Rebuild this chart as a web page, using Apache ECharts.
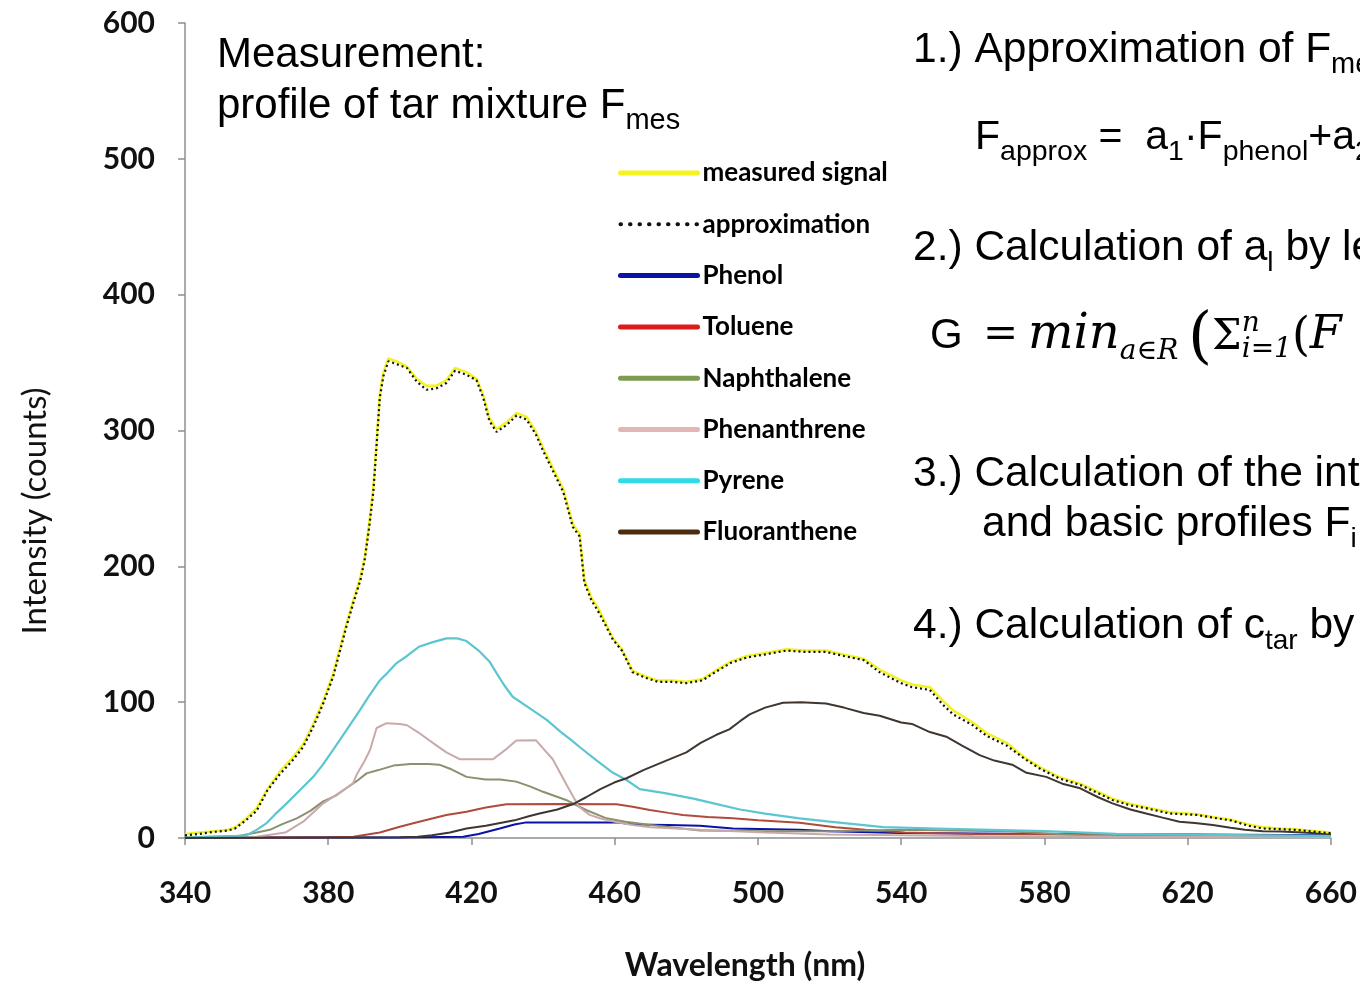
<!DOCTYPE html>
<html>
<head>
<meta charset="utf-8">
<title>Tar mixture profile</title>
<script src="https://cdn.jsdelivr.net/npm/echarts@6/dist/echarts.min.js"></script>
<style>
  html, body { margin: 0; padding: 0; background: #fff; }
  #chart { width: 1360px; height: 984px; }
</style>
</head>
<body>
<div id="chart"></div>
<script>
// wavelength (nm) / intensity (counts) pairs
var approxNm = [340, 344, 348, 352, 354, 357, 360, 363, 366.5, 370, 373, 376, 378.6, 381.4, 383.3, 385, 387, 389, 390.2, 391.5, 392.6, 393.5, 394.4, 395.4, 396.8, 399, 402, 404.7, 407.4, 410.2, 413, 415.4, 418.6, 421.4, 423.3, 425, 427, 429.8, 432.6, 435.4, 438, 440, 442.8, 445.6, 448.3, 450.2, 451.5, 453.5, 455.8, 459.5, 462, 465, 468.6, 472, 476, 480, 484.5, 488, 492.5, 497, 501.7, 508, 513, 519, 524, 529.5, 534, 540, 543, 548, 551.7, 554.5, 560, 564, 569.5, 574.6, 578.8, 584, 590, 595, 599, 604, 608.6, 615, 622.5, 627, 632, 637, 641, 646, 650, 656, 660];
var approxVal = [2, 3, 4.5, 5.5, 7, 13, 20, 35, 47, 57, 67, 83, 99, 119, 138, 155, 173, 190, 205, 230, 255, 289, 324, 340, 351, 349, 346, 336, 330, 331, 335, 344, 341, 337, 324, 307, 299, 304, 311, 308, 297, 285, 270, 255, 229, 222, 188, 175, 165, 146, 138, 122, 118, 115, 115, 114, 116, 122, 129, 133, 135, 138, 137, 137, 134, 131, 122, 114, 111, 109, 98, 91, 83, 75, 68, 58, 51, 44, 39, 33, 28, 24, 21.8, 18, 17, 15, 13, 9, 7, 6.5, 6, 4.5, 3.5];

var measNm = [340, 344, 348, 352, 354, 357, 360, 363, 366.5, 370, 373, 376, 378.6, 381.4, 383.3, 385, 387, 389, 390.2, 391.5, 392.6, 393.5, 394.4, 395.4, 396.8, 399, 402, 404.7, 407.4, 410.2, 413, 415.4, 418.6, 421.4, 423.3, 425, 427, 429.8, 432.6, 435.4, 438, 440, 442.8, 445.6, 448.3, 450.2, 451.5, 453.5, 455.8, 459.5, 462, 465, 468.6, 472, 476, 480, 484.5, 488, 492.5, 497, 501.7, 508, 513, 519, 524, 529.5, 534, 540, 543, 548, 551.7, 554.5, 560, 564, 569.5, 574.6, 578.8, 584, 590, 595, 599, 604, 608.6, 615, 622.5, 627, 632, 637, 641, 646, 650, 656, 660];
var measVal = [3, 4, 5, 6, 8, 14, 22, 36, 49, 59, 69, 85, 101, 121, 140, 157, 175, 192, 207, 233, 258, 292, 327, 343, 353, 351, 347, 338, 333, 333, 337, 346, 343, 338, 326, 309, 301, 306, 313, 310, 299, 287, 272, 257, 231, 224, 190, 177, 167, 147, 139, 123, 119, 116, 116, 115, 117, 123, 130, 134, 136, 139, 138, 138, 135, 132, 124, 116, 113, 111, 101, 94, 85, 77, 70, 59, 52, 45, 40, 34, 29, 25, 22.5, 19, 17.5, 15.5, 13.5, 10, 8, 7, 6.5, 5, 4];

var phenolNm = [340, 400, 417.7, 422, 427.9, 432, 435.3, 460.5, 465.2, 475, 483.8, 493, 511.6, 520, 540, 580, 620, 660];
var phenolVal = [0.3, 0.3, 1, 3, 7, 10, 11.5, 11.5, 10, 9.5, 9, 7, 6, 5, 3.7, 3, 2.5, 2];

var tolueneNm = [340, 380, 387, 394.4, 400, 404, 409.3, 413, 418.6, 424, 429.8, 445, 460.5, 465, 469.8, 475, 479, 486, 493, 500, 511.6, 521.6, 530, 541, 560, 600, 640, 660];
var tolueneVal = [0, 0.5, 1, 4, 8.3, 11, 14.5, 17, 19.4, 22.5, 24.8, 25, 24.8, 23, 20.6, 18.5, 17, 15.5, 14.5, 13, 11.3, 8, 6, 4, 3, 2.5, 2, 1];

var naphNm = [340, 355, 360, 363.7, 367, 371.2, 375, 378.6, 382, 385, 388, 390.7, 394, 398.2, 403, 408, 411, 414, 418.6, 424, 428, 432.5, 436.3, 440, 446.4, 452, 457.7, 463, 470, 483.8, 502, 520, 540, 570, 590, 620, 660];
var naphVal = [0.5, 1.5, 4, 6, 10, 14.5, 20, 27, 31, 36.6, 42, 47.6, 50, 53.3, 54.5, 54.5, 54, 51, 45, 43, 43, 41.5, 38, 34, 28, 20.6, 14.5, 12, 9.6, 5.5, 5, 5, 6, 5, 2, 1.5, 1];

var phenanNm = [340, 360, 368, 373, 378.6, 383, 386.9, 388, 390, 391.7, 393.5, 396.3, 400, 402, 405, 409.2, 413, 416.7, 426, 430, 432.5, 438, 440, 442.7, 446.4, 450, 453, 455.8, 460, 465, 470, 483.8, 502, 520, 540, 560, 600, 660];
var phenanVal = [0.5, 1, 4, 12, 25.5, 33, 40, 47, 56, 65, 81, 84.5, 84, 83, 78, 70, 63, 58, 58, 66, 71.7, 72, 66, 58, 40, 23, 17, 14.5, 12, 9.6, 8, 6, 4, 2.5, 2, 1.5, 1, 0.5];

var pyreneNm = [340, 352, 357.2, 360, 362.8, 365, 368.4, 372, 375.8, 378.5, 381.4, 385.1, 388.8, 391.5, 394.4, 396.7, 399, 402, 405.5, 409, 413, 416, 418.6, 422, 425, 427.1, 429, 431.5, 436, 441, 445, 448.4, 450.2, 455, 459.5, 463.3, 467, 474, 482, 490, 495, 502, 511.6, 520, 535, 550, 565, 580, 600, 620, 640, 660];
var pyreneVal = [0.5, 1, 2, 6, 11, 17, 25.5, 35, 45, 54, 65, 79.5, 94, 105, 116, 122, 128.6, 134, 141, 144, 147, 147, 145, 138, 130, 121, 113, 104, 96, 87, 78, 71, 67, 57, 48, 42.7, 36, 33, 29, 24, 21, 18, 14.5, 12, 8, 7, 6, 5, 3, 2.5, 2, 1.5];

var fluorNm = [340, 400, 405, 409, 414, 418.6, 424, 428, 432, 436, 439, 444, 448.4, 452, 456, 460, 463.3, 468, 474.4, 480, 484, 488.4, 492, 495, 497.7, 502, 507, 512, 519, 524, 529.5, 534, 540, 543, 548, 552.6, 557, 561.9, 566, 571, 575, 580.5, 585, 590, 595, 599, 604, 608.4, 613, 617.7, 622, 627, 632, 636, 641, 646, 652, 660];
var fluorVal = [0, 0.5, 1, 2, 4, 7, 9, 11, 13, 16, 18, 21, 25, 30, 36, 41, 44, 50, 57, 63, 70, 76, 80, 86, 91, 96, 99.6, 100, 99, 96, 92, 90, 85, 84, 78, 74.6, 68, 61, 57, 54, 48, 45, 40, 36.6, 30, 25.5, 21, 18, 15, 12, 11, 9.6, 7.5, 6, 5, 4.7, 4, 3];

var xTicks = [340, 660, 40];
var yTicks = [0, 600, 100];

function pairs(nm, val) {
  return nm.map(function (x, i) { return [x, val[i]]; });
}

function line(name, nm, val, color, width, extra) {
  var s = {
    name: name,
    type: 'line',
    data: pairs(nm, val),
    symbol: 'none',
    silent: true,
    lineStyle: { color: color, width: width },
    itemStyle: { color: color }
  };
  for (var k in extra) s[k] = extra[k];
  return s;
}

// lay out a run of text pieces left to right (for sub/superscripts)
var measure = document.createElement('canvas').getContext('2d');
var SANS = '"Liberation Sans", Arial, sans-serif';
var MATH = '"DejaVu Serif", serif';
function run(x, y, parts) {
  var out = [];
  var cx = x;
  parts.forEach(function (p) {
    var size = p.s || 42.5;
    var font = (p.it ? 'italic ' : '') + size + 'px ' + (p.f || SANS);
    if (p.x !== undefined) cx = p.x;
    measure.font = font;
    var w = measure.measureText(p.t).width;
    out.push({
      type: 'text', x: cx, y: y + (p.dy || 0), silent: true,
      style: { text: p.t, font: font, fill: '#000', align: 'left', verticalAlign: 'middle' }
    });
    if (!p.stay) cx += w;
  });
  return out;
}

var notes = [].concat(
  run(217, 55, [{ t: 'Measurement:', s: 42 }]),
  run(217, 106, [{ t: 'profile of tar mixture F', s: 42 }, { t: 'mes', s: 29, dy: 15 }]),
  run(913, 50, [{ t: '1.) Approximation of F' }, { t: 'mes', s: 29, dy: 15 }]),
  run(975, 138, [{ t: 'F', s: 41 }, { t: 'approx', s: 28.5, dy: 14 }, { t: ' =  a', s: 41 }, { t: '1', s: 28.5, dy: 14 },
    { t: '\u00b7F', s: 41 }, { t: 'phenol', s: 28.5, dy: 14 }, { t: '+a', s: 41 }, { t: '2', s: 28.5, dy: 14 }]),
  run(913, 248, [{ t: '2.) Calculation of a' }, { t: 'l', s: 28, dy: 15 }, { t: ' by least squares' }]),
  run(930, 336, [{ t: 'G', s: 42 }, { t: '=', s: 42, f: MATH, x: 983 }, { t: 'min', s: 48, it: 1, f: MATH, x: 1028 },
    { t: 'a\u2208R', s: 28, it: 1, f: MATH, dy: 16 }, { t: '(', s: 62, f: MATH, x: 1188, dy: 4 },
    { t: '\u03a3', s: 42, f: MATH, x: 1212, dy: 2 }, { t: 'n', s: 28, it: 1, f: MATH, dy: -12, stay: 1 },
    { t: 'i=1', s: 28, it: 1, f: MATH, dy: 14 }, { t: '(', s: 46, f: MATH, dy: 2 }, { t: 'F', s: 46, it: 1, f: MATH }]),
  run(913, 474, [{ t: '3.) Calculation of the intensities' }]),
  run(982, 524, [{ t: 'and basic profiles F' }, { t: 'i', s: 28, dy: 15 }]),
  run(913, 626, [{ t: '4.) Calculation of c' }, { t: 'tar', s: 28, dy: 15 }, { t: ' by' }])
);

notes.push({
  type: 'text', x: 35, y: 511, rotation: Math.PI / 2, silent: true,
  style: { text: 'Intensity (counts)', font: '33px Lato, sans-serif', fill: '#111', align: 'center', verticalAlign: 'middle' }
});
notes.push({
  type: 'text', x: 745, y: 966, silent: true,
  style: { text: 'Wavelength (nm)', font: 'bold 32px Lato, sans-serif', fill: '#111', align: 'center', verticalAlign: 'middle' }
});

var axisGray = '#8f8f8f';
var tickFont = { fontFamily: 'Lato', fontWeight: 'bold', fontSize: 30, color: '#111' };

function key(name, color, extra) {
  var ls = { color: color, width: 5, cap: 'round' };
  for (var k in extra) ls[k] = extra[k];
  return { name: name, lineStyle: ls };
}

var chart = echarts.init(document.getElementById('chart'), null, { renderer: 'canvas' });
chart.setOption({
  animation: false,
  backgroundColor: '#fff',
  grid: { left: 185, right: 29, top: 23, bottom: 146 },
  xAxis: {
    type: 'value',
    min: xTicks[0], max: xTicks[1], interval: xTicks[2],
    axisLine: { lineStyle: { color: axisGray, width: 1.5 } },
    axisTick: { length: 7, lineStyle: { color: axisGray, width: 1.5 } },
    splitLine: { show: false },
    axisLabel: Object.assign({ margin: 40 }, tickFont)
  },
  yAxis: {
    type: 'value',
    min: yTicks[0], max: yTicks[1], interval: yTicks[2],
    axisLine: { show: true, lineStyle: { color: axisGray, width: 1.5 } },
    axisTick: { show: true, length: 7, lineStyle: { color: axisGray, width: 1.5 } },
    splitLine: { show: false },
    axisLabel: Object.assign({ margin: 30 }, tickFont)
  },
  legend: {
    orient: 'vertical',
    left: 618,
    top: 160,
    padding: 0,
    itemWidth: 77,
    itemHeight: 14,
    itemGap: 25.3,
    selectedMode: false,
    itemStyle: { opacity: 0 },
    textStyle: { fontFamily: 'Lato', fontWeight: 'bold', fontSize: 26, lineHeight: 26, color: '#000' },
    data: [
      key('measured signal', '#f4f420'),
      key('approximation', '#111', { type: [0.5, 9], width: 4 }),
      key('Phenol', '#0b12a6'),
      key('Toluene', '#dc1c1c'),
      key('Naphthalene', '#7d9b52'),
      key('Phenanthrene', '#e2b6b6'),
      key('Pyrene', '#30dbe8'),
      key('Fluoranthene', '#4b2c0f')
    ]
  },
  graphic: notes,
  series: [
    line('Phenol', phenolNm, phenolVal, '#0b12a6', 2),
    line('Toluene', tolueneNm, tolueneVal, '#b04a3c', 2),
    line('Naphthalene', naphNm, naphVal, '#8a9070', 2),
    line('Phenanthrene', phenanNm, phenanVal, '#c9aaaa', 2),
    line('Pyrene', pyreneNm, pyreneVal, '#5cc6d0', 2.2),
    line('Fluoranthene', fluorNm, fluorVal, '#3f3630', 2),
    line('measured signal', measNm, measVal, '#f2f224', 2.5, { z: 3 }),
    line('approximation', approxNm, approxVal, '#111', 2.2, {
      z: 4, lineStyle: { color: '#111', width: 2.2, type: [2, 3] }
    })
  ]
});
</script>
</body>
</html>
